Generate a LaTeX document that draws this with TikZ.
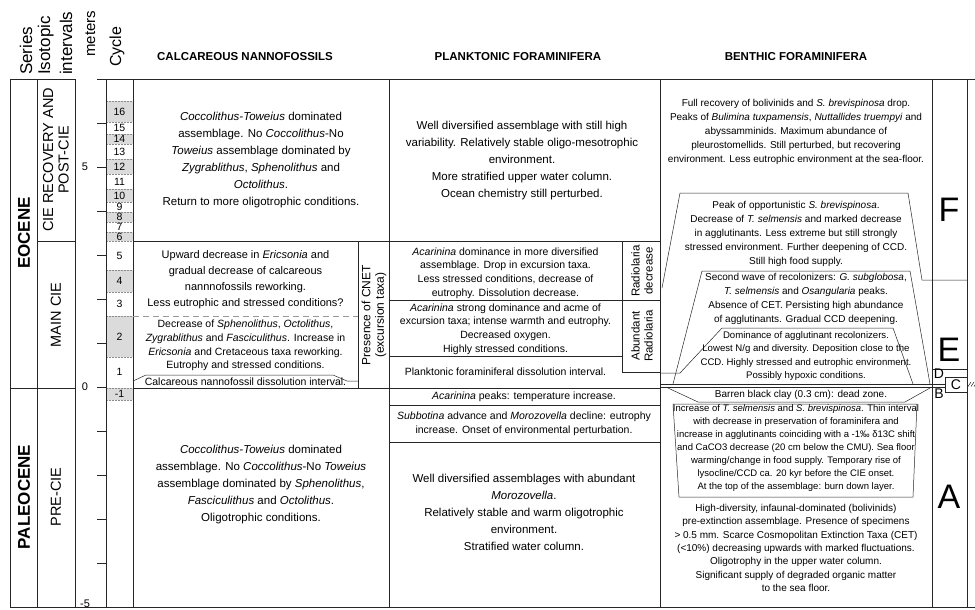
\documentclass[tikz,border=0pt]{standalone}
\usepackage{fontspec}
\setmainfont{Liberation Sans}
\begin{document}
\begin{tikzpicture}[x=1pt,y=-1pt,
  ln/.style={line width=0.7pt,draw=black!85},
  thin/.style={line width=0.5pt,draw=black!85},
  vhdr/.style={rotate=90,anchor=base west,inner sep=0pt,font=\fontsize{17}{17}\selectfont},
  colhdr/.style={inner sep=0pt,font=\bfseries\fontsize{11.5}{13}\selectfont},
  ntxt/.style={align=center,inner sep=0pt,font=\fontsize{11.5}{17}\selectfont},
  stxt/.style={align=center,inner sep=0pt,font=\fontsize{10.5}{13.6}\selectfont},
  btxt/.style={align=center,inner sep=0pt,font=\fontsize{10}{13.8}\selectfont},
  sertxt/.style={rotate=90,inner sep=0pt,font=\bfseries\fontsize{17}{17}\selectfont},
  isotxt/.style={rotate=90,inner sep=0pt,align=center,font=\fontsize{14.5}{15.5}\selectfont},
  lettr/.style={inner sep=0pt,font=\fontsize{34}{34}\selectfont},
  smlettr/.style={inner sep=0pt,font=\fontsize{14}{14}\selectfont},
  cyc/.style={inner sep=0pt,font=\fontsize{10.5}{10.5}\selectfont},
  cell/.style={fill=black!14,draw=none}
]
\useasboundingbox (0,0) rectangle (975,610);

% ---------- headers ----------
\node[vhdr] (hSeries) at (32,75) {Series};
\node[vhdr] (hIso) at (50,75) {Isotopic};
\node[vhdr] (hInt) at (72,75) {intervals};
\node[vhdr,font=\fontsize{15}{15}\selectfont] (hMet) at (95,57) {meters};
\node[vhdr,font=\fontsize{16}{16}\selectfont] (hCyc) at (121,67) {Cycle};
\node[colhdr] (hNan) at (245,57) {CALCAREOUS NANNOFOSSILS};
\node[colhdr] (hPla) at (518,57) {PLANKTONIC FORAMINIFERA};
\node[colhdr] (hBen) at (796,57) {BENTHIC FORAMINIFERA};

% ---------- cycle cells ----------
\foreach \a/\b in {101/122,134/144,159/174,189/202,212/222,232/241,270/292,316/357,388/400}
  \fill[cell] (106,\a) rectangle (133,\b);
\foreach \y in {101,122,134,144,159,174,189,202,212,222,232,241,270,292,316,357,388,400}
  \draw[densely dotted,black!45,line width=0.5pt] (107,\y) -- (132,\y);
\foreach \y/\t in {111.5/16,128/15,139/14,151.5/13,166.5/12,181.5/11,195.5/10,207/9,217/8,227/7,236.5/6,255.5/5,281/4,304/3,336.5/2,372/1,394/-1}
  \node[cyc] (c\t) at (119.5,\y) {\t};

% ---------- frame lines ----------
\draw[ln] (10,79) rectangle (75,607);
\draw[ln] (37,79) -- (37,607);
\draw[ln] (37,241) -- (75,241);
\draw[ln] (10,388) -- (75,388);
\draw[ln] (97,79) -- (975,79);
\draw[ln] (10,607) -- (975,607);
\draw[ln] (106,79) -- (106,607);
\draw[ln] (133,79) -- (133,607);
\draw[ln] (389,79) -- (389,607);
\draw[ln] (660,79) -- (660,607);
\draw[ln] (932,79) -- (932,607);
\draw[ln] (967,79) -- (967,607);
\foreach \y in {123,167,211,255,299,343,387,431,475,519,563}
  \draw[ln] (97,\y) -- (106,\y);
\node[inner sep=0pt,font=\fontsize{11}{11}\selectfont] (m5) at (85,167) {5};
\node[inner sep=0pt,font=\fontsize{11}{11}\selectfont] (m0) at (85,387) {0};
\node[inner sep=0pt,font=\fontsize{11}{11}\selectfont] (mm5) at (85,604) {-5};

% ---------- series / isotopic ----------
\node[sertxt] (eoc) at (24,233) {EOCENE};
\node[sertxt] (pal) at (24,497) {PALEOCENE};
\node[isotxt] (rec) at (56,160) {CIE RECOVERY AND\\POST-CIE};
\node[isotxt] (main) at (56,315) {MAIN CIE};
\node[isotxt] (pre) at (56,497) {PRE-CIE};

% ---------- nannofossils ----------
\draw[ln] (133,241) -- (660,241);
\draw[ln] (358,241) -- (358,388);
\draw[black!40,line width=0.8pt,dash pattern=on 6pt off 4pt] (133,316) -- (358,316);
\draw[thin] (133,381) -- (146,375) -- (333,375) -- (347,381) -- (358,381);
\draw[ln] (133,388) -- (660,388);
\node[ntxt] (n1) at (261,160) {\textit{Coccolithus-Toweius} dominated\\assemblage. No \textit{Coccolithus}-No\\\textit{Toweius} assemblage dominated by\\\textit{Zygrablithus}, \textit{Sphenolithus} and\\\textit{Octolithus}.\\Return to more oligotrophic conditions.};
\node[ntxt,font=\fontsize{11}{16}\selectfont] (n2) at (245.5,280) {Upward decrease in \textit{Ericsonia} and\\gradual decrease of calcareous\\nannnofossils reworking.\\Less eutrophic and stressed conditions?};
\node[stxt] (n3) at (245.5,345.5) {Decrease of \textit{Sphenolithus}, \textit{Octolithus},\\\textit{Zygrablithus} and \textit{Fasciculithus}. Increase in\\\textit{Ericsonia} and Cretaceous taxa reworking.\\Eutrophy and stressed conditions.};
\node[stxt] (n4) at (245.5,382) {Calcareous nannofossil dissolution interval.};
\node[ntxt] (n5) at (261,485) {\textit{Coccolithus-Toweius} dominated\\assemblage. No \textit{Coccolithus}-No \textit{Toweius}\\assemblage dominated by \textit{Sphenolithus},\\\textit{Fasciculithus} and \textit{Octolithus}.\\Oligotrophic conditions.};
\node[stxt,rotate=90,font=\fontsize{12}{13.5}\selectfont] (cnet) at (374,315) {Presence of CNET\\(excursion taxa)};

% ---------- planktonic ----------
\draw[ln] (389,300) -- (660,300);
\draw[ln] (389,356) -- (622,356);
\draw[ln] (622,241) -- (622,372) -- (660,372);
\draw[ln] (389,405) -- (660,405);
\draw[ln] (389,442) -- (660,442);
\node[ntxt] (p1) at (522,161) {Well diversified assemblage with still high\\variability. Relatively stable oligo-mesotrophic\\environment.\\More stratified upper water column.\\Ocean chemistry still perturbed.};
\node[stxt] (p2) at (505.5,273) {\textit{Acarinina} dominance in more diversified\\assemblage. Drop in excursion taxa.\\Less stressed conditions, decrease of\\eutrophy. Dissolution decrease.};
\node[stxt] (p3) at (505.5,329) {\textit{Acarinina} strong dominance and acme of\\excursion taxa; intense warmth and eutrophy.\\Decreased oxygen.\\Highly stressed conditions.};
\node[stxt] (p4) at (505.5,372) {Planktonic foraminiferal dissolution interval.};
\node[stxt] (p5) at (524,396.5) {\textit{Acarinina} peaks: temperature increase.};
\node[stxt] (p6) at (524,424) {\textit{Subbotina} advance and \textit{Morozovella} decline: eutrophy\\increase. Onset of environmental perturbation.};
\node[ntxt] (p7) at (524,512) {Well diversified assemblages with abundant\\\textit{Morozovella}.\\Relatively stable and warm oligotrophic\\environment.\\Stratified water column.};
\node[stxt,rotate=90,font=\fontsize{11.5}{13}\selectfont] (rad1) at (642,271) {Radiolaria\\decrease};
\node[stxt,rotate=90,font=\fontsize{11.5}{13}\selectfont] (rad2) at (642,336) {Abundant\\Radiolaria};

% ---------- benthic shapes ----------
\draw[thin] (662,288) -- (680,193) -- (908,193) -- (922,280) -- (967,280);
\draw[thin] (673,384) -- (702,271) -- (910,271) -- (930,384);
\draw[thin] (660,373) -- (680,373) -- (722,328) -- (893,328) -- (913,384);
\draw[thin] (660,384) -- (945,384);
\draw[thin] (660,387) -- (945,387);
\draw[thin] (668,388) -- (698,402) -- (905,402) -- (930,388);
\draw[thin] (673,404) -- (679,497) -- (913,497) -- (917,404) -- cycle;
\draw[thin] (932,369) -- (967,369);
\draw[thin] (945,377) rectangle (967,392);
\foreach \x in {968,971,974}
  \draw[line width=0.4pt] (\x,386.5) -- (\x+3,382);

\node[btxt] (b1) at (796,132) {Full recovery of bolivinids and \textit{S. brevispinosa} drop.\\Peaks of \textit{Bulimina tuxpamensis}, \textit{Nuttallides truempyi} and\\abyssamminids. Maximum abundance of\\pleurostomellids. Still perturbed, but recovering\\environment. Less eutrophic environment at the sea-floor.};
\node[btxt] (b2) at (796,234) {Peak of opportunistic \textit{S. brevispinosa}.\\Decrease of \textit{T. selmensis} and marked decrease\\in agglutinants. Less extreme but still strongly\\stressed environment. Further deepening of CCD.\\Still high food supply.};
\node[btxt] (b3) at (806,299) {Second wave of recolonizers: \textit{G. subglobosa},\\\textit{T. selmensis} and \textit{Osangularia} peaks.\\Absence of CET. Persisting high abundance\\of agglutinants. Gradual CCD deepening.};
\node[btxt,font=\fontsize{9.6}{13.5}\selectfont] (b4) at (806,356) {Dominance of agglutinant recolonizers.\\Lowest N/g and diversity. Deposition close to the\\CCD. Highly stressed and eutrophic environment.\\Possibly hypoxic conditions.};
\node[btxt] (b5) at (801,395) {Barren black clay (0.3 cm): dead zone.};
\node[btxt,font=\fontsize{9.5}{12.9}\selectfont] (b6) at (796,448) {Increase of \textit{T. selmensis} and \textit{S. brevispinosa}. Thin interval\\with decrease in preservation of foraminifera and\\increase in agglutinants coinciding with a -1‰ δ13C shift\\and CaCO3 decrease (20 cm below the CMU). Sea floor\\warming/change in food supply. Temporary rise of\\lysocline/CCD ca. 20 kyr before the CIE onset.\\At the top of the assemblage: burn down layer.};
\node[btxt,font=\fontsize{10}{13.4}\selectfont] (b7) at (796,548) {High-diversity, infaunal-dominated (bolivinids)\\pre-extinction assemblage. Presence of specimens\\> 0.5 mm. Scarce Cosmopolitan Extinction Taxa (CET)\\(<10\%) decreasing upwards with marked fluctuations.\\Oligotrophy in the upper water column.\\Significant supply of degraded organic matter\\to the sea floor.};

% ---------- letters ----------
\node[lettr] (LF) at (949,210) {F};
\node[lettr] (LE) at (949,350) {E};
\node[smlettr] (LD) at (939,374) {D};
\node[smlettr] (LC) at (956,384.5) {C};
\node[smlettr] (LB) at (939,394) {B};
\node[lettr] (LA) at (949,497) {A};
\end{tikzpicture}
\end{document}
